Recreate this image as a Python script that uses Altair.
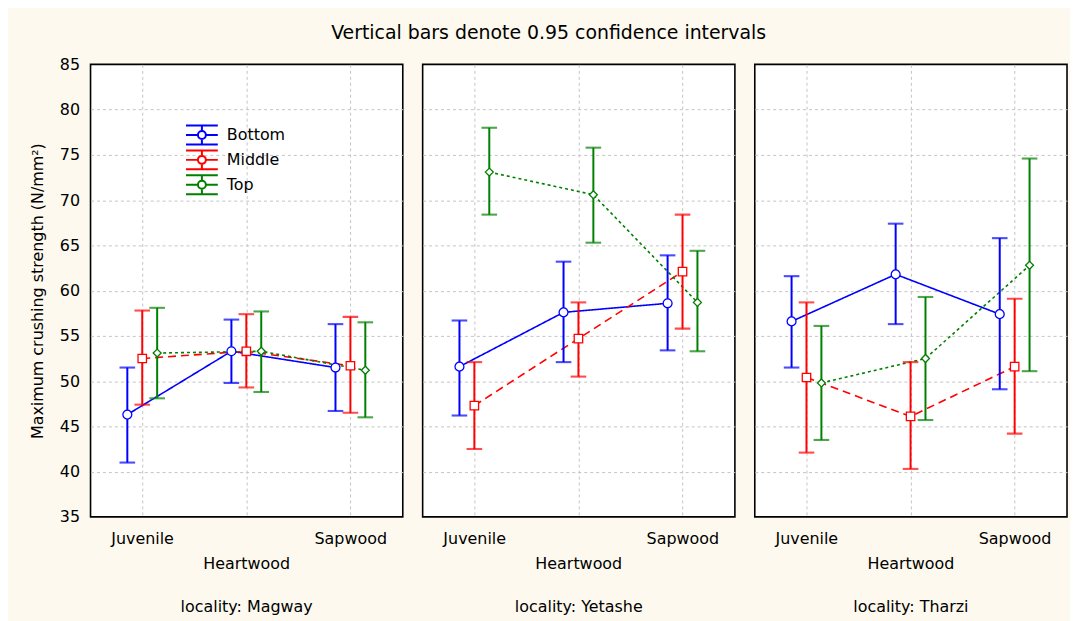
import altair as alt
import pandas as pd

localities = ["Magway", "Yetashe", "Tharzi"]
parts = ["Juvenile", "Heartwood", "Sapwood"]
series = ["Bottom", "Middle", "Top"]

# means / lower / upper per locality, per series, per part
magway_bottom = [46.3, 53.3, 51.5]
magway_bottom_lo = [41.0, 49.8, 46.7]
magway_bottom_hi = [51.5, 56.8, 56.3]
magway_middle = [52.5, 53.3, 51.7]
magway_middle_lo = [47.4, 49.3, 46.5]
magway_middle_hi = [57.8, 57.4, 57.1]
magway_top = [53.1, 53.3, 51.2]
magway_top_lo = [48.1, 48.8, 46.0]
magway_top_hi = [58.1, 57.7, 56.5]

yetashe_bottom = [51.6, 57.6, 58.6]
yetashe_bottom_lo = [46.2, 52.1, 53.4]
yetashe_bottom_hi = [56.7, 63.2, 63.9]
yetashe_middle = [47.3, 54.7, 62.1]
yetashe_middle_lo = [42.5, 50.5, 55.8]
yetashe_middle_hi = [52.1, 58.7, 68.4]
yetashe_top = [73.1, 70.6, 58.7]
yetashe_top_lo = [68.4, 65.3, 53.3]
yetashe_top_hi = [78.0, 75.8, 64.4]

tharzi_bottom = [56.6, 61.8, 57.4]
tharzi_bottom_lo = [51.5, 56.3, 49.1]
tharzi_bottom_hi = [61.6, 67.4, 65.8]
tharzi_middle = [50.4, 46.1, 51.6]
tharzi_middle_lo = [42.1, 40.3, 44.2]
tharzi_middle_hi = [58.7, 52.1, 59.1]
tharzi_top = [49.8, 52.5, 62.8]
tharzi_top_lo = [43.5, 45.7, 51.1]
tharzi_top_hi = [56.1, 59.3, 74.6]

table = {
    ("Magway", "Bottom"): (magway_bottom, magway_bottom_lo, magway_bottom_hi),
    ("Magway", "Middle"): (magway_middle, magway_middle_lo, magway_middle_hi),
    ("Magway", "Top"): (magway_top, magway_top_lo, magway_top_hi),
    ("Yetashe", "Bottom"): (yetashe_bottom, yetashe_bottom_lo, yetashe_bottom_hi),
    ("Yetashe", "Middle"): (yetashe_middle, yetashe_middle_lo, yetashe_middle_hi),
    ("Yetashe", "Top"): (yetashe_top, yetashe_top_lo, yetashe_top_hi),
    ("Tharzi", "Bottom"): (tharzi_bottom, tharzi_bottom_lo, tharzi_bottom_hi),
    ("Tharzi", "Middle"): (tharzi_middle, tharzi_middle_lo, tharzi_middle_hi),
    ("Tharzi", "Top"): (tharzi_top, tharzi_top_lo, tharzi_top_hi),
}

rows = []
for (loc, ser), (m, lo, hi) in table.items():
    for i, p in enumerate(parts):
        rows.append({"locality": loc, "series": ser, "ser_shape": ser, "ser_size": ser,
                     "ser_dash": ser, "part": p, "mean": m[i], "lo": lo[i], "hi": hi[i]})
df = pd.DataFrame(rows)

colors = ["#0000FF", "#FF0000", "#008000"]
FONT = "DejaVu Sans"
GRID = "#c4c4c4"

ydom = alt.Scale(domain=[35, 85], nice=False, zero=False)
xscale = alt.Scale(paddingInner=0, paddingOuter=0)

x_enc = alt.X("part:N", sort=parts, scale=xscale, title=None,
              axis=alt.Axis(labelAngle=0, ticks=False, domain=False,
                            grid=True, gridDash=[3, 3], gridColor=GRID,
                            labelFontSize=16, labelFont=FONT, labelColor="black",
                            labelPadding={"condition": {"test": "datum.value == 'Heartwood'", "value": 38},
                                          "value": 13}))
xoff = alt.XOffset("series:N", sort=series,
                   scale=alt.Scale(type="point", range=[37, 67], padding=0))
cscale = alt.Scale(domain=series, range=colors)

legend_symbol = ("M-1.6,-0.95H1.6M-1.6,0.95H1.6M0,-0.95V-0.4M0,0.4V0.95M-1.6,0H-0.4M0.4,0H1.6"
                 "M-0.4,0A0.4,0.4 0 1,0 0.4,0A0.4,0.4 0 1,0 -0.4,0")
color_enc = alt.Color("series:N", sort=series, scale=cscale,
                      legend=alt.Legend(title=None, orient="none", legendX=101, legendY=60,
                                        symbolType=legend_symbol,
                                        symbolSize=400, symbolStrokeWidth=2,
                                        symbolFillColor="white",
                                        labelFontSize=16, labelFont=FONT, labelColor="black",
                                        rowPadding=-4, labelOffset=14))

y_axis = alt.Axis(title="Maximum crushing strength (N/mm²)", values=list(range(35, 90, 5)),
                  ticks=False, domain=False, grid=True, gridDash=[3, 3], gridColor=GRID,
                  gridOpacity={"condition": {"test": "datum.value == 35 || datum.value == 85", "value": 0},
                               "value": 1},
                  labelFontSize=16, labelFont=FONT, labelColor="black", labelPadding=10,
                  titleFontSize=16, titleFont=FONT, titleFontWeight="normal",
                  titleColor="black", titlePadding=14)

base = alt.Chart(df).encode(x=x_enc, xOffset=xoff)

lines = base.mark_line(strokeWidth=1.6).encode(
    y=alt.Y("mean:Q", scale=ydom, axis=y_axis),
    color=color_enc,
    strokeDash=alt.StrokeDash("ser_dash:N", sort=series,
                              scale=alt.Scale(range=[[1, 0], [8, 5], [3, 3]]),
                              legend=None),
    detail="series:N",
)
bars = base.mark_rule(strokeWidth=2).encode(
    y=alt.Y("lo:Q", scale=ydom), y2="hi:Q",
    color=alt.Color("series:N", sort=series, scale=cscale, legend=None),
)
cap_lo = base.mark_tick(orient="horizontal", size=14, thickness=0.4, filled=False,
                        strokeWidth=1.7).encode(
    y=alt.Y("lo:Q", scale=ydom),
    color=alt.Color("series:N", sort=series, scale=cscale, legend=None),
)
cap_hi = base.mark_tick(orient="horizontal", size=14, thickness=0.4, filled=False,
                        strokeWidth=1.7).encode(
    y=alt.Y("hi:Q", scale=ydom),
    color=alt.Color("series:N", sort=series, scale=cscale, legend=None),
)
points = base.mark_point(filled=False, fill="white", fillOpacity=1, strokeWidth=1.3, opacity=1).encode(
    y=alt.Y("mean:Q", scale=ydom),
    color=alt.Color("series:N", sort=series, scale=cscale, legend=None),
    shape=alt.Shape("ser_shape:N", sort=series,
                    scale=alt.Scale(range=["circle", "square", "diamond"]),
                    legend=None),
    size=alt.Size("ser_size:N", sort=series,
                  scale=alt.Scale(range=[80, 64, 40]), legend=None),
)

layer = alt.layer(lines, bars, cap_lo, cap_hi, points).properties(width=314, height=455)

chart = layer.facet(
    column=alt.Column("locality:N", sort=localities, title=None,
                      header=alt.Header(labelOrient="bottom",
                                        labelExpr="'locality: ' + datum.value",
                                        labelFontSize=16, labelFont=FONT, labelColor="black",
                                        labelPadding=28)),
    spacing=18,
).properties(
    title=alt.TitleParams("Vertical bars denote 0.95 confidence intervals",
                          fontSize=19, font=FONT, fontWeight="normal", color="black",
                          anchor="middle", offset=14),
    background="#FDF9EE",
    padding={"left": 21, "top": 14, "right": 2, "bottom": 4},
).configure_view(
    stroke="black", strokeWidth=1.6, fill="white"
)

chart.save("out.html", embed_options={"renderer": "svg", "actions": False})
